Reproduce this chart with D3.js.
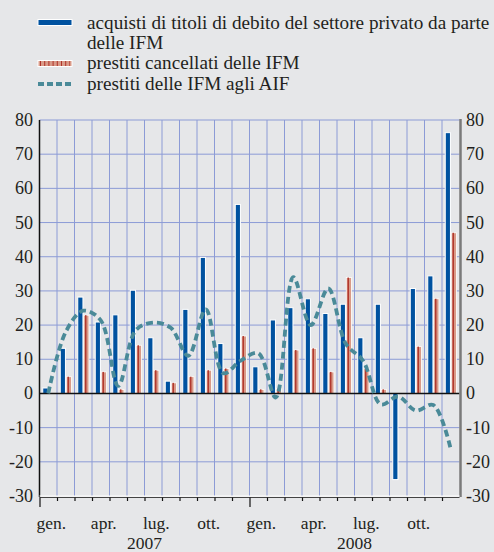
<!DOCTYPE html>
<html>
<head>
    <meta charset="utf-8" />
    <script src="https://d3js.org/d3.v7.min.js"></script>
    <style>
        body { margin: 0; background: #e6e7e9; }
    </style>
</head>
<body>
    <script>
        // data (monthly, gen. 2007 - dic. 2008)
        const months = d3.range(24).map(i => 'm' + i);
        const acquisti = [1.6, 13.2, 28.2, 20.9, 23.0, 30.2, 16.3, 3.6, 24.6, 39.8, 14.6, 55.3,
                          7.8, 21.5, 25.1, 27.7, 23.4, 26.1, 16.3, 26.1, -25.2, 30.7, 34.4, 76.3];
        const cancellati = [0, 4.9, 22.9, 6.3, 1.2, 14.1, 6.8, 3.1, 4.9, 6.8, 7.3, 16.8,
                            1.2, 1.5, 12.7, 13.2, 6.3, 33.9, 7.3, 1.2, 0, 13.7, 27.7, 47.0];
        const prestitiAIF = [0, 18, 24.2, 21.4, 2.2, 18.5, 20.7, 19.2, 11, 24.6, 5.9, 9.6,
                             11.8, -1.2, 34, 20, 30.7, 14.6, 9.5, -3.2, -0.9, -5, -3.4, -16.3];
        const monthLabels = ['gen.', 'apr.', 'lug.', 'ott.', 'gen.', 'apr.', 'lug.', 'ott.'];
        const yearLabels = ['2007', '2008'];
        const yTicks = [-30, -20, -10, 0, 10, 20, 30, 40, 50, 60, 70, 80];
        const legendLabels = [
            ['acquisti di titoli di debito del settore privato da parte', 'delle IFM'],
            ['prestiti cancellati delle IFM'],
            ['prestiti delle IFM agli AIF']
        ];

        const W = 494, H = 552;
        const pLeft = 39.5, pRight = 459.5, pTop = 120, pBottom = 496;
        const blue = '#0052a0', salmon = '#d99a88', darkRed = '#b0342a', teal = '#4a8a98', grid = '#8c9bd6';
        const ink = '#231f20';

        const svg = d3.select('body').append('svg')
            .attr('width', W).attr('height', H);

        // serif text helper
        function serifText(sel, size) {
            return sel.style('font-family', "'Liberation Serif'")
                .style('font-size', size + 'px')
                .style('fill', ink);
        }

        const x = d3.scaleBand().domain(months).range([pLeft, pRight]);
        const y = d3.scaleLinear().domain([-30, 80]).range([pBottom, pTop]);

        // grid
        svg.append('g').selectAll('line').data(yTicks.filter(d => d !== 0 && d !== -30))
            .enter().append('line')
            .attr('x1', pLeft).attr('x2', pRight)
            .attr('y1', d => y(d)).attr('y2', d => y(d))
            .attr('stroke', grid).attr('stroke-width', 1);
        svg.append('g').selectAll('line').data(months.slice(1))
            .enter().append('line')
            .attr('x1', d => x(d)).attr('x2', d => x(d))
            .attr('y1', pTop).attr('y2', pBottom)
            .attr('stroke', grid).attr('stroke-width', 1);

        // bars
        const bw = 5.2;
        svg.append('g').selectAll('rect').data(months)
            .enter().append('rect')
            .attr('x', d => x(d) + x.bandwidth() / 2 - bw - 0.3)
            .attr('y', (d, i) => y(Math.max(0, acquisti[i])))
            .attr('width', bw)
            .attr('height', (d, i) => Math.abs(y(acquisti[i]) - y(0)))
            .attr('fill', blue).attr('stroke', '#fff').attr('stroke-width', 1);

        const red = svg.append('g').selectAll('g').data(months.filter((d, i) => cancellati[i] > 0))
            .enter().append('g');
        red.append('rect')
            .attr('x', d => x(d) + x.bandwidth() / 2 + 0.5)
            .attr('y', d => y(cancellati[months.indexOf(d)]))
            .attr('width', bw)
            .attr('height', d => y(0) - y(cancellati[months.indexOf(d)]))
            .attr('fill', salmon).attr('stroke', '#fff').attr('stroke-width', 0.8);
        red.append('rect')
            .attr('x', d => x(d) + x.bandwidth() / 2 + 1.8)
            .attr('y', d => y(cancellati[months.indexOf(d)]))
            .attr('width', 1.4)
            .attr('height', d => y(0) - y(cancellati[months.indexOf(d)]))
            .attr('fill', darkRed);

        // axes lines
        svg.append('line').attr('x1', pLeft).attr('x2', pRight).attr('y1', y(0)).attr('y2', y(0))
            .attr('stroke', '#111').attr('stroke-width', 1.5);
        svg.append('line').attr('x1', pLeft).attr('x2', pLeft).attr('y1', pTop).attr('y2', pBottom + 1)
            .attr('stroke', '#111').attr('stroke-width', 1.5);
        svg.append('line').attr('x1', pRight + 1).attr('x2', pRight + 1).attr('y1', pTop - 1).attr('y2', pBottom + 1)
            .attr('stroke', '#7a7a7a').attr('stroke-width', 2.5);
        svg.append('line').attr('x1', pLeft).attr('x2', pRight).attr('y1', pBottom).attr('y2', pBottom)
            .attr('stroke', '#fff').attr('stroke-width', 1);
        svg.append('line').attr('x1', pLeft).attr('x2', pRight).attr('y1', pBottom + 1.5).attr('y2', pBottom + 1.5)
            .attr('stroke', '#444').attr('stroke-width', 1.2);

        // month ticks
        svg.append('g').selectAll('line').data(months)
            .enter().append('line')
            .attr('x1', d => x(d) + 0.5).attr('x2', d => x(d) + 0.5)
            .attr('y1', pBottom + 1.5)
            .attr('y2', (d, i) => pBottom + (i % 12 === 0 ? 11 : 5))
            .attr('stroke', '#111').attr('stroke-width', 1.2);

        // line
        const line = d3.line()
            .x((d, i) => x(months[i]) + x.bandwidth() / 2)
            .y(d => y(d))
            .curve(d3.curveCatmullRom.alpha(0.5));
        svg.append('path').datum(prestitiAIF)
            .attr('d', line)
            .attr('fill', 'none').attr('stroke', teal)
            .attr('stroke-width', 3.8).attr('stroke-dasharray', '7,4');

        // y tick labels
        svg.append('g').selectAll('text').data(yTicks)
            .enter().append('text')
            .attr('x', 33).attr('y', d => y(d) + 6)
            .attr('text-anchor', 'end')
            .call(serifText, 18)
            .text(d => d);
        svg.append('g').selectAll('text').data(yTicks)
            .enter().append('text')
            .attr('x', 466).attr('y', d => y(d) + 6)
            .attr('text-anchor', 'start')
            .call(serifText, 18)
            .text(d => d);

        // x labels
        svg.append('g').selectAll('text').data(monthLabels)
            .enter().append('text')
            .attr('x', (d, i) => x(months[i * 3]) + x.bandwidth() / 2 + 3)
            .attr('y', 529)
            .attr('text-anchor', 'middle')
            .call(serifText, 17.5)
            .text(d => d);
        svg.append('g').selectAll('text').data(yearLabels)
            .enter().append('text')
            .attr('x', (d, i) => x(months[i * 12 + 6]))
            .attr('y', 549)
            .attr('text-anchor', 'middle')
            .call(serifText, 17.5)
            .text(d => d);

        // legend
        const leg = svg.append('g');
        const ly = [22.5, 63.5, 84];
        const ty = [28.5, 69, 89.5];
        leg.append('rect').attr('x', 38).attr('y', ly[0] - 3).attr('width', 34).attr('height', 6)
            .attr('fill', blue).attr('stroke', '#fff').attr('stroke-width', 1);
        leg.append('rect').attr('x', 38).attr('y', ly[1] - 3).attr('width', 34).attr('height', 6)
            .attr('fill', salmon).attr('stroke', '#fff').attr('stroke-width', 1);
        leg.append('line').attr('x1', 40).attr('x2', 70).attr('y1', ly[1]).attr('y2', ly[1])
            .attr('stroke', darkRed).attr('stroke-width', 5).attr('stroke-dasharray', '1,3.2');
        leg.append('line').attr('x1', 38).attr('x2', 72).attr('y1', ly[2]).attr('y2', ly[2])
            .attr('stroke', teal).attr('stroke-width', 4).attr('stroke-dasharray', '6,3');
        legendLabels.forEach((lines, i) => {
            lines.forEach((t, j) => {
                leg.append('text')
                    .attr('x', 87).attr('y', ty[i] + j * 20.5)
                    .call(serifText, 19.2)
                    .text(t);
            });
        });
    </script>
</body>
</html>
